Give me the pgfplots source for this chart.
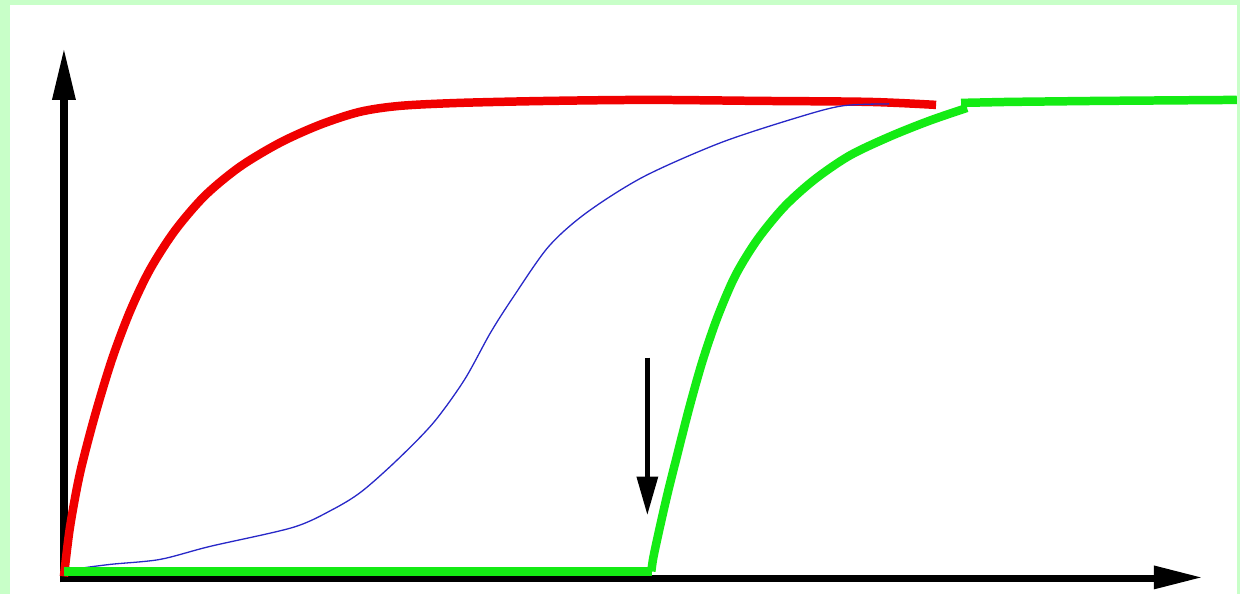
\documentclass[border=0pt]{standalone}
\usepackage{pgfplots}
\pgfplotsset{compat=1.18}
\definecolor{bggreen}{RGB}{200,255,200}
\definecolor{cred}{RGB}{240,0,0}
\definecolor{cgreen}{RGB}{20,235,20}
\definecolor{cblue}{RGB}{40,40,200}

\begin{document}
\begin{tikzpicture}
\begin{axis}[
  hide axis,
  scale only axis,
  width=1241bp, height=595bp,
  xmin=0, xmax=1241,
  ymin=0, ymax=595,
  y dir=reverse,
  clip=false,
]
% frame
\fill[bggreen] (axis cs:0,0) rectangle (axis cs:1241,595);
\fill[white] (axis cs:10,5) rectangle (axis cs:1238,595);

% axes with arrows
\draw[black, line width=8bp] (axis cs:64,583) -- (axis cs:64,95);
\fill[black] (axis cs:64,50) -- (axis cs:52,100) -- (axis cs:76,100) -- cycle;
\draw[black, line width=7bp] (axis cs:60,579) -- (axis cs:1160,579);
\fill[black] (axis cs:1202,578) -- (axis cs:1155,566) -- (axis cs:1155,590) -- cycle;

% red
\addplot[cred, line width=8.5bp, smooth] coordinates {
(64,577) (70,528) (80,474) (95,416) (112,360) (130,312) (150,270) (175,231)
(205,196) (240,167) (280,143) (320,125) (360,112) (400,106) (460,103)
(550,101) (650,100) (760,101) (870,102) (937,105)};

% blue
\addplot[cblue, line width=1.3bp, smooth] coordinates {
(64,576) (75,570) (110,565) (160,560) (210,547) (293,528) (333,510) (362,492)
(398,460) (434,423) (465,380) (491,333) (514,297) (549,247) (587,213)
(644,177) (721,143) (797,118) (843,106) (890,104)};

% green
\addplot[cgreen, line width=8.5bp] coordinates {(64,572) (653,572)};
\addplot[cgreen, line width=8.5bp, smooth] coordinates {
(652,572) (654,558) (660,530) (668,495) (678,455) (690,408) (703,362)
(718,318) (736,276) (758,240) (785,207) (815,180) (850,156) (890,137)
(930,121) (968,108)};
\addplot[cgreen, line width=8.5bp] coordinates {
(962,103) (1010,102) (1100,101) (1238,100)};

% marker arrow
\draw[black, line width=5bp] (axis cs:648,358) -- (axis cs:648,480);
\fill[black] (axis cs:648,515) -- (axis cs:637,477) -- (axis cs:659,477) -- cycle;
\end{axis}
\end{tikzpicture}
\end{document}
